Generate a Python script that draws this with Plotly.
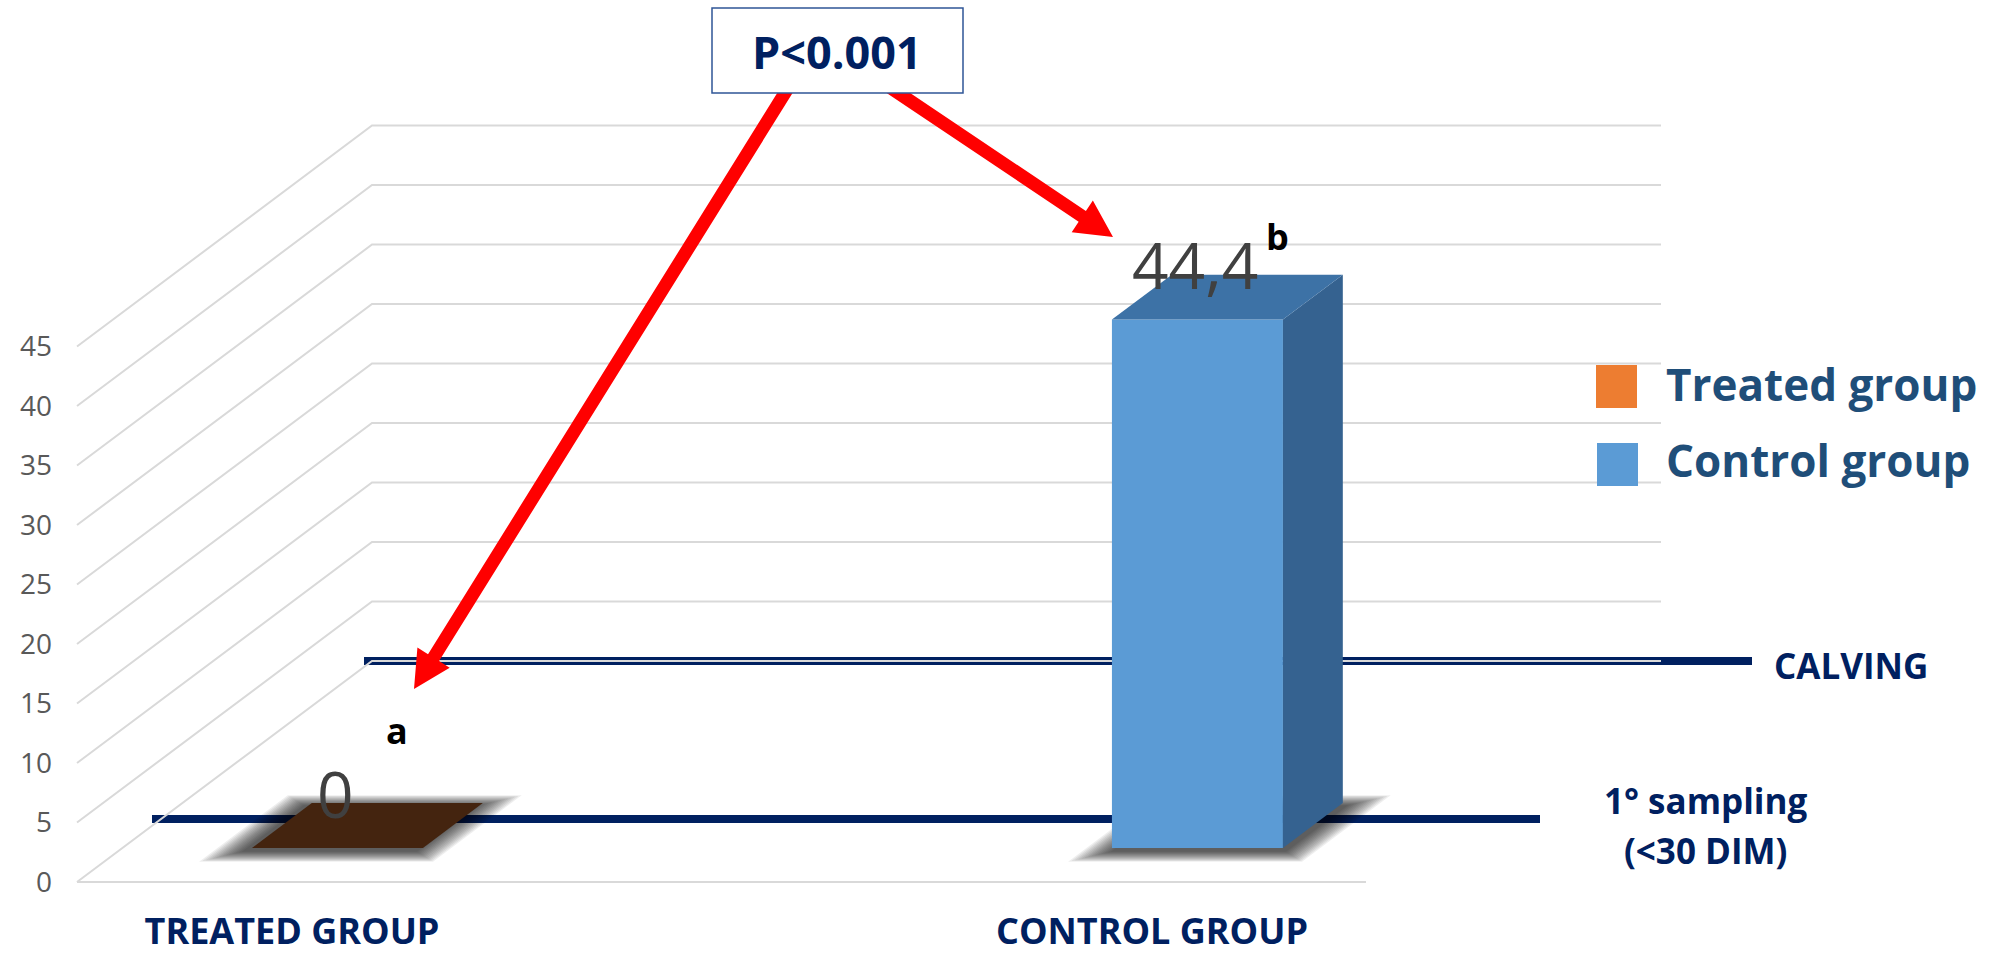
import numpy as np
import plotly.graph_objects as go

# ---- data ----
CATEGORIES = ["TREATED GROUP", "CONTROL GROUP"]
SERIES = ["Treated group", "Control group"]
VALUES = [0, 44.4]
LETTERS = ["a", "b"]
Y_TICKS = [0, 5, 10, 15, 20, 25, 30, 35, 40, 45]
P_TEXT = "P<0.001"
REF_LINES = ["CALVING", "1° sampling", "(<30 DIM)"]

# ---- layout constants (pixels) ----
W, H = 2000, 954
LEFT = 53
ZERO_PX = 882            # pixel row of value 0 on the front plane
PX_PER_UNIT = 11.9
DEPTH_DX = 295           # oblique depth offset of the back wall, pixels
DEPTH_DY = 221
FLOOR_X0, FLOOR_X1 = 77, 1366
CAT_X = [292, 1152]      # category centres on the front edge of the floor
HALF_W = 85.5
D0, D1 = 0.154, 0.357    # bar depth slice (fraction of floor depth)

FRONT_COL = ["#ED7D31", "#5B9BD5"]
SIDE_COL = ["#B35A1F", "#356290"]
TOP_COL = ["#44240F", "#3D72A6"]
NAVY = "#002060"
GRID = "#D9D9D9"

FONT = "Open Sans"


def py2v(py):
    return (ZERO_PX - py) / PX_PER_UNIT


DV = DEPTH_DY / PX_PER_UNIT


def proj(x, v, d):
    return x + d * DEPTH_DX, v + d * DV


def to_px(pt):
    return np.array([pt[0], ZERO_PX - pt[1] * PX_PER_UNIT])


def offset_poly(px_pts, e):
    pts = np.array(px_pts, float)
    n = len(pts)
    c = pts.mean(axis=0)
    lines = []
    for i in range(n):
        p, q = pts[i], pts[(i + 1) % n]
        d = (q - p) / np.linalg.norm(q - p)
        nrm = np.array([d[1], -d[0]])
        if np.dot(nrm, (p + q) / 2 - c) < 0:
            nrm = -nrm
        lines.append((p + nrm * e, d))
    out = []
    for i in range(n):
        p1, d1 = lines[i - 1]
        p2, d2 = lines[i]
        A = np.array([d1, -d2]).T
        t, _ = np.linalg.solve(A, p2 - p1)
        out.append(p1 + t * d1)
    return np.array(out)


fig = go.Figure()

# gridlines: front diagonal up to the back wall, then along the wall
for t in Y_TICKS:
    xs = [FLOOR_X0, FLOOR_X0 + DEPTH_DX, FLOOR_X1 + DEPTH_DX]
    ys = [t, t + DV, t + DV]
    fig.add_trace(go.Scatter(x=xs, y=ys, mode="lines",
                             line=dict(color=GRID, width=2),
                             hoverinfo="skip", showlegend=False))
fig.add_trace(go.Scatter(x=[FLOOR_X0, FLOOR_X1], y=[0, 0], mode="lines",
                         line=dict(color=GRID, width=2),
                         hoverinfo="skip", showlegend=False))

# soft shadows under the bars (stacked translucent halos, wider than tall)
SQUASH = np.array([1.0, 2.6])
SHADOW_SHIFT = [np.array([-7, 3]), np.array([2, 3])]
for i, val in enumerate(VALUES):
    cx = CAT_X[i]
    xl, xr = cx - HALF_W, cx + HALF_W
    foot = [proj(xl, 0, D0), proj(xr, 0, D0), proj(xr, 0, D1), proj(xl, 0, D1)]
    foot_px = np.array([to_px(p) + SHADOW_SHIFT[i] for p in foot])
    for e in range(28, 0, -2):
        poly = offset_poly(foot_px * SQUASH, e) / SQUASH
        xs = list(poly[:, 0]) + [poly[0, 0]]
        ys = [py2v(v) for v in poly[:, 1]] + [py2v(poly[0, 1])]
        fig.add_trace(go.Scatter(x=xs, y=ys, mode="lines", fill="toself",
                                 fillcolor="rgba(0,0,0,0.065)",
                                 line=dict(width=0), hoverinfo="skip",
                                 showlegend=False))

# 3-D bars: front, side and top faces
for i, val in enumerate(VALUES):
    cx = CAT_X[i]
    xl, xr = cx - HALF_W, cx + HALF_W
    faces = [
        ([proj(xl, 0, D0), proj(xr, 0, D0), proj(xr, val, D0), proj(xl, val, D0)], FRONT_COL[i]),
        ([proj(xr, 0, D0), proj(xr, 0, D1), proj(xr, val, D1), proj(xr, val, D0)], SIDE_COL[i]),
        ([proj(xl, val, D0), proj(xr, val, D0), proj(xr, val, D1), proj(xl, val, D1)], TOP_COL[i]),
    ]
    for pts, col in faces:
        if val == 0 and col != TOP_COL[i]:
            continue
        xs = [p[0] for p in pts] + [pts[0][0]]
        ys = [p[1] for p in pts] + [pts[0][1]]
        fig.add_trace(go.Scatter(x=xs, y=ys, mode="lines", fill="toself",
                                 fillcolor=col, line=dict(width=0),
                                 name=SERIES[i], hoverinfo="skip",
                                 showlegend=False))

shapes = []
# reference lines (calving / first sampling) behind the bars
shapes.append(dict(type="line", layer="below", xref="x", yref="y",
                   x0=364, x1=1752, y0=py2v(661), y1=py2v(661),
                   line=dict(color=NAVY, width=8)))
shapes.append(dict(type="line", layer="below", xref="x", yref="y",
                   x0=152, x1=1540, y0=py2v(819), y1=py2v(819),
                   line=dict(color=NAVY, width=8)))


def arrow_path(start, tip, w=13, hl=37, hw=38):
    s = np.array(start, float)
    t = np.array(tip, float)
    u = (t - s) / np.linalg.norm(t - s)
    n = np.array([-u[1], u[0]])
    b = t - u * hl
    pts = [s + n * w / 2, b + n * w / 2, b + n * hw / 2, t,
           b - n * hw / 2, b - n * w / 2, s - n * w / 2]
    return "M " + " L ".join(f"{p[0]:.2f},{py2v(p[1]):.4f}" for p in pts) + " Z"


shapes.append(dict(type="path", layer="above", xref="x", yref="y",
                   path=arrow_path((793, 80), (414, 689)),
                   fillcolor="#FF0000", line=dict(width=0)))
shapes.append(dict(type="path", layer="above", xref="x", yref="y",
                   path=arrow_path((879, 80), (1113, 237)),
                   fillcolor="#FF0000", line=dict(width=0)))
# p-value box
shapes.append(dict(type="rect", layer="above", xref="x", yref="y",
                   x0=712, x1=963, y0=py2v(93), y1=py2v(8),
                   fillcolor="white", line=dict(color="#2F5597", width=1.5)))
# legend swatches
shapes.append(dict(type="rect", layer="above", xref="x", yref="y",
                   x0=1596, x1=1637, y0=py2v(408), y1=py2v(365),
                   fillcolor=FRONT_COL[0], line=dict(width=0)))
shapes.append(dict(type="rect", layer="above", xref="x", yref="y",
                   x0=1597, x1=1638, y0=py2v(486), y1=py2v(443),
                   fillcolor=FRONT_COL[1], line=dict(width=0)))

ann = []
# value labels above each bar
for i, val in enumerate(VALUES):
    lx, ly = proj(CAT_X[i], val, D0)
    txt = f"{val:g}".replace(".", ",")
    ann.append(dict(x=lx - 2, y=ly + 4.6, text=txt, showarrow=False,
                    font=dict(family=FONT, size=64, color="#404040"),
                    xanchor="center", yanchor="middle"))
LETTER_PX = [(397, 730), (1277, 236)]
for letter, (lx, lyp) in zip(LETTERS, LETTER_PX):
    ann.append(dict(x=lx, y=py2v(lyp), text=f"<b>{letter}</b>", showarrow=False,
                    font=dict(family=FONT, size=36, color="black"),
                    xanchor="center", yanchor="middle"))
ann.append(dict(x=837, y=py2v(51), text=f"<b>{P_TEXT}</b>", showarrow=False,
                font=dict(family=FONT, size=45, color=NAVY),
                xanchor="center", yanchor="middle"))
for name, yp in zip(SERIES, [384, 460]):
    ann.append(dict(x=1664, y=py2v(yp), text=f"<b>{name}</b>", showarrow=False,
                    font=dict(family=FONT, size=44, color="#1F4E79"),
                    xanchor="left", yanchor="middle"))
ann.append(dict(x=1772, y=py2v(665), text=f"<b>{REF_LINES[0]}</b>", showarrow=False,
                font=dict(family=FONT, size=35, color=NAVY),
                xanchor="left", yanchor="middle"))
ann.append(dict(x=1706, y=py2v(800), text=f"<b>{REF_LINES[1]}</b>", showarrow=False,
                font=dict(family=FONT, size=35, color=NAVY),
                xanchor="center", yanchor="middle"))
ann.append(dict(x=1705, y=py2v(850), text=f"<b>{REF_LINES[2]}</b>", showarrow=False,
                font=dict(family=FONT, size=35, color=NAVY),
                xanchor="center", yanchor="middle"))

fig.update_layout(
    width=W, height=H,
    margin=dict(l=LEFT, r=0, t=0, b=0, autoexpand=False),
    paper_bgcolor="white", plot_bgcolor="white",
    shapes=shapes, annotations=ann, showlegend=False,
    xaxis=dict(range=[LEFT, W], showgrid=False, zeroline=False, showline=False,
               ticks="", tickvals=CAT_X, ticktext=[f"<b>{c}</b>" for c in CATEGORIES],
               ticklabelposition="inside", ticklabelstandoff=0, automargin=False,
               tickfont=dict(family=FONT, size=36, color=NAVY), fixedrange=True),
    yaxis=dict(range=[py2v(H), py2v(0)], showgrid=False, zeroline=False,
               showline=False, ticks="", tickvals=Y_TICKS, automargin=False,
               ticktext=[str(t) for t in Y_TICKS],
               tickfont=dict(family=FONT, size=28, color="#595959"),
               fixedrange=True),
)

fig.write_html("out.html")
